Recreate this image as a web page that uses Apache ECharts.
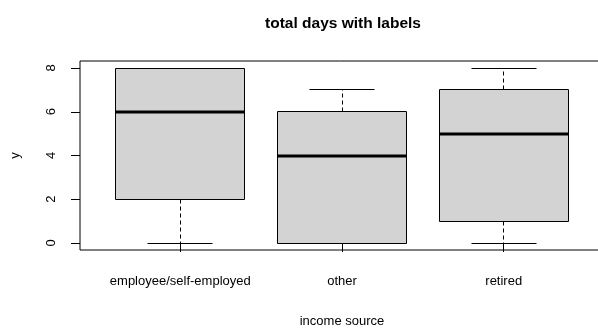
<!DOCTYPE html>
<html>
<head>
<meta charset="utf-8">
<script src="https://cdn.jsdelivr.net/npm/echarts@6/dist/echarts.min.js"></script>
<style>
  html, body { margin: 0; padding: 0; background: #fff; }
  #chart { width: 598px; height: 331px; }
</style>
</head>
<body>
<div id="chart"></div>
<script>
// Income source groups and their five-number summaries (days)
const categories = ['employee/self-employed', 'other', 'retired'];
const whiskerLow = [0, 0, 0];
const quartile1 = [2, 0, 1];
const medians = [6, 4, 5];
const quartile3 = [8, 6, 7];
const whiskerHigh = [8, 7, 8];
const yTicks = [0, 2, 4, 6, 8];

const FONT = "'Liberation Sans', Arial, Helvetica, sans-serif";
const BOX_W = 0.8;     // box width in category units
const CAP_W = 0.4;     // staple width in category units

const rows = categories.map((c, i) => [i + 1, whiskerLow[i], quartile1[i], medians[i], quartile3[i], whiskerHigh[i]]);

function crisp(v) { return Math.round(v - 0.5) + 0.5; }

function renderBox(params, api) {
  const x = api.value(0);
  const lo = api.coord([x, api.value(1)]);
  const q1 = api.coord([x, api.value(2)]);
  const md = api.coord([x, api.value(3)]);
  const q3 = api.coord([x, api.value(4)]);
  const hi = api.coord([x, api.value(5)]);
  const left = api.coord([x - BOX_W / 2, 0])[0];
  const right = api.coord([x + BOX_W / 2, 0])[0];
  const capL = api.coord([x - CAP_W / 2, 0])[0];
  const capR = api.coord([x + CAP_W / 2, 0])[0];
  const cx = crisp(lo[0]);
  const solid = { stroke: '#000', lineWidth: 1, fill: null };
  const dashed = { stroke: '#000', lineWidth: 1, lineDash: [4, 3], fill: null };
  const yLo = crisp(lo[1]), yQ1 = crisp(q1[1]), yQ3 = crisp(q3[1]), yHi = crisp(hi[1]);
  const xl = crisp(left), xr = crisp(right);
  return {
    type: 'group',
    children: [
      { type: 'line', shape: { x1: cx, y1: yQ3, x2: cx, y2: yHi }, style: dashed },
      { type: 'line', shape: { x1: cx, y1: yQ1, x2: cx, y2: yLo }, style: dashed },
      { type: 'line', shape: { x1: crisp(capL), y1: yHi, x2: crisp(capR), y2: yHi }, style: solid },
      { type: 'line', shape: { x1: crisp(capL), y1: yLo, x2: crisp(capR), y2: yLo }, style: solid },
      { type: 'rect', shape: { x: xl, y: yQ3, width: xr - xl, height: yQ1 - yQ3 },
        style: { fill: '#d3d3d3', stroke: '#000', lineWidth: 1 } },
      { type: 'line', shape: { x1: xl, y1: Math.round(md[1]), x2: xr, y2: Math.round(md[1]) },
        style: { stroke: '#000', lineWidth: 3 } }
    ]
  };
}

const chart = echarts.init(document.getElementById('chart'), null, { renderer: 'canvas' });
chart.setOption({
  animation: false,
  backgroundColor: '#fff',
  title: {
    text: 'total days with labels',
    left: 338,
    top: 11,
    textAlign: 'center',
    textStyle: { fontFamily: FONT, fontSize: 15.5, fontWeight: 'bold', color: '#000' }
  },
  grid: {
    left: 80, width: 524, top: 61, bottom: 81,
    outerBoundsMode: 'none',
    containLabel: false,
    show: true, borderColor: '#000', borderWidth: 1, backgroundColor: 'transparent'
  },
  xAxis: {
    type: 'value',
    min: 0.38, max: 3.62,
    name: 'income source',
    nameLocation: 'middle',
    nameGap: 65,
    nameTextStyle: { fontFamily: FONT, fontSize: 13, color: '#000' },
    splitLine: { show: false },
    axisLine: { show: false },
    axisTick: { show: true, length: 9, customValues: [1, 2, 3], lineStyle: { color: '#000' } },
    axisLabel: {
      customValues: [1, 2, 3],
      formatter: v => categories[Math.round(v) - 1],
      margin: 25,
      fontFamily: FONT, fontSize: 13, color: '#000'
    }
  },
  yAxis: {
    type: 'value',
    min: -0.32, max: 8.32,
    name: 'y',
    nameLocation: 'middle',
    nameGap: 58,
    nameRotate: 90,
    nameTextStyle: { fontFamily: FONT, fontSize: 13, color: '#000' },
    splitLine: { show: false },
    axisLine: { show: false },
    axisTick: { show: true, length: 9, customValues: yTicks, lineStyle: { color: '#000' } },
    axisLabel: {
      customValues: yTicks,
      rotate: 90,
      margin: 22,
      fontFamily: FONT, fontSize: 13, color: '#000'
    }
  },
  series: [{
    type: 'custom',
    renderItem: renderBox,
    data: rows,
    clip: false
  }]
});
</script>
</body>
</html>
